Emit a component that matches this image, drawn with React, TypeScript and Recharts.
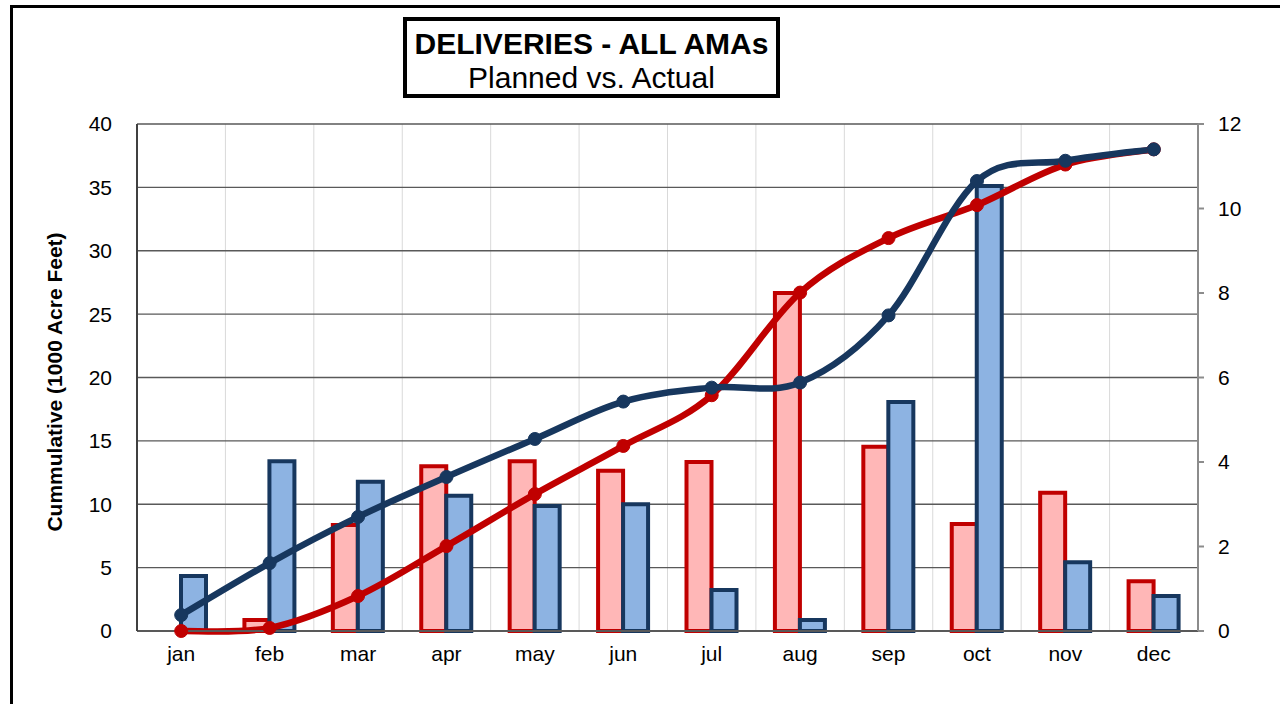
import React from "react";
import {
  ComposedChart,
  Bar,
  Line,
  XAxis,
  YAxis,
  CartesianGrid,
} from "recharts";

const months = ["jan", "feb", "mar", "apr", "may", "jun", "jul", "aug", "sep", "oct", "nov", "dec"];
const plannedMonthly = [0, 0.26, 2.51, 3.9, 4.02, 3.79, 4.0, 8.0, 4.36, 2.53, 3.27, 1.18];
const actualMonthly = [1.3, 4.02, 3.53, 3.2, 2.96, 3.0, 0.97, 0.26, 5.42, 10.53, 1.63, 0.83];
const plannedCum = [0, 0.24, 2.76, 6.7, 10.8, 14.6, 18.6, 26.7, 31.0, 33.6, 36.8, 38.0];
const actualCum = [1.26, 5.36, 9.0, 12.15, 15.15, 18.1, 19.2, 19.6, 24.9, 35.5, 37.1, 38.0];
const leftTicks = [0, 5, 10, 15, 20, 25, 30, 35, 40];
const rightTicks = [0, 2, 4, 6, 8, 10, 12];

const data = months.map((m, i) => ({
  month: m,
  plannedMonthly: plannedMonthly[i],
  actualMonthly: actualMonthly[i],
  plannedCum: plannedCum[i],
  actualCum: actualCum[i],
}));

const RED = "#C00000";
const NAVY = "#17375E";
const FONT = "'Liberation Sans', Arial, sans-serif";

// excel-ish smoothed line (catmull-rom style bezier)
function smoothCurve(context: any) {
  let pts: number[][] = [];
  return {
    areaStart() {},
    areaEnd() {},
    lineStart() {
      pts = [];
    },
    lineEnd() {
      if (!pts.length) return;
      context.moveTo(pts[0][0], pts[0][1]);
      for (let i = 0; i < pts.length - 1; i++) {
        const p0 = pts[i - 1] || pts[i];
        const p1 = pts[i];
        const p2 = pts[i + 1];
        const p3 = pts[i + 2] || p2;
        context.bezierCurveTo(
          p1[0] + (p2[0] - p0[0]) / 6,
          p1[1] + (p2[1] - p0[1]) / 6,
          p2[0] - (p3[0] - p1[0]) / 6,
          p2[1] - (p3[1] - p1[1]) / 6,
          p2[0],
          p2[1]
        );
      }
    },
    point(x: number, y: number) {
      pts.push([+x, +y]);
    },
  };
}

export default function App() {
  const tick = { fontSize: 21, fill: "#000", fontFamily: FONT };
  return (
    <div style={{ position: "absolute", left: 0, top: 0, width: 1280, height: 704, overflow: "hidden", background: "#fff", fontFamily: FONT }}>
      <div style={{ position: "absolute", left: 10, top: 5, width: 1320, height: 800, border: "3px solid #000" }} />

      <ComposedChart
        width={1280}
        height={704}
        data={data}
        margin={{ top: 124, right: 22, bottom: 33, left: 77 }}
        barSize={25}
        barGap={0}
        style={{ position: "absolute", left: 0, top: 0 }}
      >
        <CartesianGrid
          yAxisId="left"
          horizontal={false}
          stroke="#d9d9d9"
          strokeWidth={1}
          verticalCoordinatesGenerator={({ offset }: any) =>
            months.map((_, i) => offset.left + (i * offset.width) / months.length).slice(1)
          }
        />
        <CartesianGrid yAxisId="left" vertical={false} stroke="#595959" strokeWidth={1.3} />
        <XAxis
          dataKey="month"
          tick={tick}
          tickLine={false}
          tickMargin={9}
          axisLine={{ stroke: "#595959", strokeWidth: 2 }}
          height={40}
        />
        <YAxis
          yAxisId="left"
          domain={[0, 40]}
          ticks={leftTicks}
          tick={tick}
          tickLine={false}
          tickMargin={19}
          axisLine={{ stroke: "#404040", strokeWidth: 2 }}
          width={60}
        />
        <YAxis
          yAxisId="right"
          orientation="right"
          domain={[0, 12]}
          ticks={rightTicks}
          tick={tick}
          tickLine={{ stroke: "#8c8c8c", strokeWidth: 2 }}
          tickSize={6}
          tickMargin={14}
          axisLine={{ stroke: "#8c8c8c", strokeWidth: 2 }}
          width={60}
        />
        <Bar yAxisId="right" dataKey="plannedMonthly" fill="#FFB7B7" stroke={RED} strokeWidth={4} isAnimationActive={false} />
        <Bar yAxisId="right" dataKey="actualMonthly" fill="#8DB3E2" stroke={NAVY} strokeWidth={4} isAnimationActive={false} />
        <Line
          yAxisId="left"
          dataKey="plannedCum"
          type={smoothCurve as any}
          stroke={RED}
          strokeWidth={6.5}
          dot={{ r: 6.5, fill: RED, stroke: RED, strokeWidth: 1 }}
          isAnimationActive={false}
        />
        <Line
          yAxisId="left"
          dataKey="actualCum"
          type={smoothCurve as any}
          stroke={NAVY}
          strokeWidth={6.5}
          dot={{ r: 6.5, fill: NAVY, stroke: NAVY, strokeWidth: 1 }}
          isAnimationActive={false}
        />
      </ComposedChart>

      <div
        style={{
          position: "absolute",
          left: 55,
          top: 382,
          transform: "translate(-50%, -50%) rotate(-90deg)",
          whiteSpace: "nowrap",
          fontSize: 21,
          fontWeight: "bold",
          color: "#000",
        }}
      >
        Cummulative (1000 Acre Feet)
      </div>

      <div
        style={{
          position: "absolute",
          left: 403,
          top: 17,
          width: 369,
          height: 67,
          border: "4px solid #000",
          textAlign: "center",
          color: "#000",
          lineHeight: "34px",
          paddingTop: 6,
          boxSizing: "content-box",
        }}
      >
        <div style={{ fontSize: 30, fontWeight: "bold" }}>DELIVERIES - ALL AMAs</div>
        <div style={{ fontSize: 30 }}>Planned vs. Actual</div>
      </div>
    </div>
  );
}
